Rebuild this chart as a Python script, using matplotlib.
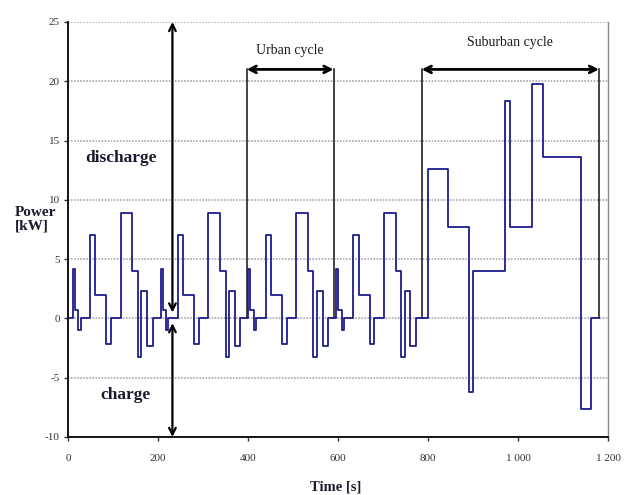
import matplotlib
matplotlib.use("Agg")
import matplotlib.pyplot as plt

# ---- data ----
step_start_s = [
    0, 11, 15, 23, 28, 49, 61, 85, 96, 117, 143, 155, 163, 176, 188,
    195, 206, 210, 218, 223, 244, 256, 280, 291, 312, 338, 350, 358, 371, 383,
    390, 401, 405, 413, 418, 439, 451, 475, 486, 507, 533, 545, 553, 566, 578,
    585, 596, 600, 608, 613, 634, 646, 670, 681, 702, 728, 740, 748, 761, 773,
    780, 801, 844, 892, 901, 971, 983, 1032, 1056, 1140, 1162,
]
power_kw = [
    0, 4.2, 0.75, -1.0, 0, 7.0, 2.0, -2.2, 0, 8.9, 4.0, -3.25, 2.3, -2.3, 0,
    0, 4.2, 0.75, -1.0, 0, 7.0, 2.0, -2.2, 0, 8.9, 4.0, -3.25, 2.3, -2.3, 0,
    0, 4.2, 0.75, -1.0, 0, 7.0, 2.0, -2.2, 0, 8.9, 4.0, -3.25, 2.3, -2.3, 0,
    0, 4.2, 0.75, -1.0, 0, 7.0, 2.0, -2.2, 0, 8.9, 4.0, -3.25, 2.3, -2.3, 0,
    0, 12.6, 7.7, -6.2, 4.0, 18.35, 7.7, 19.8, 13.6, -7.65, 0,
]
end_time_s = 1181

x_ticks = [0, 200, 400, 600, 800, 1000, 1200]
x_tick_labels = ["0", "200", "400", "600", "800", "1 000", "1 200"]
y_ticks = [-10, -5, 0, 5, 10, 15, 20, 25]

urban_span = (397, 590)
suburban_span = (786, 1180)
span_arrow_y = 21.0
charge_arrow_x = 232

serif = ["Liberation Serif", "DejaVu Serif"]
plt.rcParams["font.family"] = serif
plt.rcParams["axes.unicode_minus"] = False

fig = plt.figure(figsize=(6.27, 4.95), dpi=100)
ax = fig.add_axes([0.1085, 0.1172, 0.8612, 0.8384])

# grid
for y in y_ticks[1:]:
    ax.axhline(y, color="#9a9a9a", lw=1.1, ls=(0, (1, 1)), zorder=0)

# power profile
t = step_start_s + [end_time_s]
p = power_kw + [power_kw[-1]]
ax.step(t, p, where="post", color="#1c1c8c", lw=1.3, zorder=3)

# cycle markers
for span, label, ly in [(urban_span, "Urban cycle", 22.6), (suburban_span, "Suburban cycle", 23.3)]:
    for xv in span:
        ax.plot([xv, xv], [0, span_arrow_y], color="#111111", lw=1.1, zorder=2)
    ax.annotate("", xy=(span[0], span_arrow_y), xytext=(span[1], span_arrow_y),
                arrowprops=dict(arrowstyle="<->", color="black", lw=2.0,
                                shrinkA=0, shrinkB=0, mutation_scale=12), zorder=4)
    ax.text((span[0] + span[1]) / 2, ly, label, ha="center", va="center",
            fontsize=10, color="#1a1a1a")

# discharge / charge arrows
ax.annotate("", xy=(charge_arrow_x, 25), xytext=(charge_arrow_x, 0.5),
            arrowprops=dict(arrowstyle="<->", color="black", lw=1.6,
                            shrinkA=0, shrinkB=0, mutation_scale=12), zorder=4)
ax.annotate("", xy=(charge_arrow_x, -10), xytext=(charge_arrow_x, -0.4),
            arrowprops=dict(arrowstyle="<->", color="black", lw=1.6,
                            shrinkA=0, shrinkB=0, mutation_scale=12), zorder=4)
ax.text(117, 13.5, "discharge", ha="center", va="center", fontsize=12.5,
        fontweight="bold", color="#1a1a2e")
ax.text(128, -6.5, "charge", ha="center", va="center", fontsize=12.5,
        fontweight="bold", color="#1a1a2e")

# axes
ax.set_xlim(0, 1200)
ax.set_ylim(-10, 25)
ax.set_xticks(x_ticks)
ax.set_xticklabels(x_tick_labels)
ax.set_yticks(y_ticks)
ax.tick_params(axis="both", labelsize=8, colors="#333333", length=3, width=1,
               direction="out")
ax.tick_params(axis="x", pad=9)
ax.tick_params(axis="y", pad=3)
for side in ["left", "bottom"]:
    ax.spines[side].set_color("black")
    ax.spines[side].set_linewidth(1.3)
ax.spines["top"].set_visible(False)
ax.spines["right"].set_color("#8a8a8a")
ax.spines["right"].set_linewidth(1.0)

fig.text(0.024, 0.557, "Power\n[kW]", ha="left", va="center", fontsize=11,
         fontweight="bold", color="#1a1a2e", linespacing=1.0)
fig.text(0.536, 0.016, "Time [s]", ha="center", va="center", fontsize=10.5,
         fontweight="bold", color="#1a1a2e")

fig.savefig("out.png", dpi=100)
